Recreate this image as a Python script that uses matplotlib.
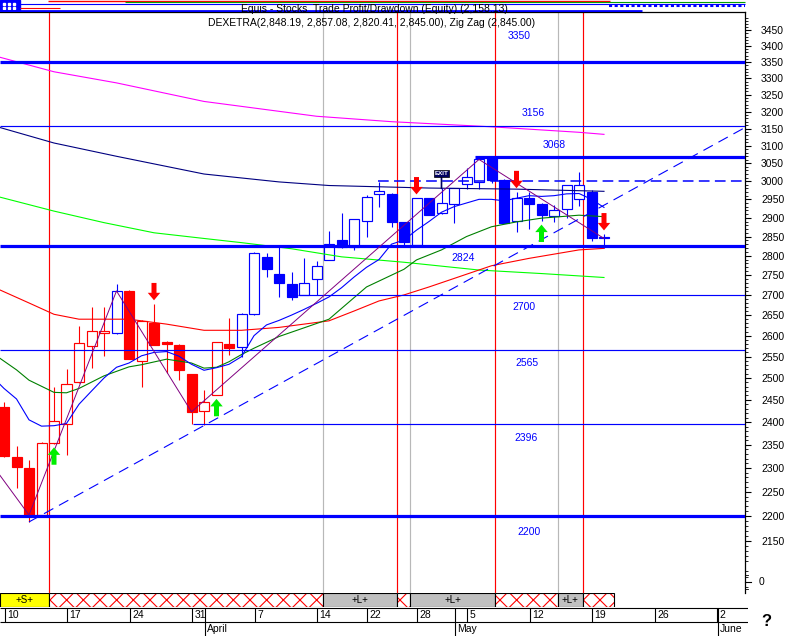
import numpy as np
import matplotlib
matplotlib.use("Agg")
import matplotlib.pyplot as plt
from matplotlib.patches import Rectangle
from matplotlib.ticker import FixedLocator, FuncFormatter, NullFormatter

plt.rcParams['font.family'] = ['Liberation Sans', 'DejaVu Sans']
plt.rcParams['hatch.linewidth'] = 0.8

# ---------------- data ----------------
opens = [2434, 2324, 2300, 2202, 2354, 2396, 2491, 2575, 2607, 2606,
         2710, 2540, 2631, 2585, 2578, 2509, 2425, 2461, 2580, 2573,
         2652, 2796, 2753, 2727, 2700, 2739, 2790, 2841, 2822, 2892,
         2964, 2964, 2889, 2828, 2953, 2912, 2936, 2991, 2998, 3064,
         3003, 2891, 2955, 2937, 2905, 2925, 2950, 2971, 2848.19]
highs = [2445, 2347, 2317, 2356, 2480, 2521, 2623, 2670, 2670, 2727,
         2712, 2638, 2678, 2587, 2579, 2510, 2472, 2586, 2643, 2655,
         2810, 2807, 2823, 2759, 2794, 2787, 2864, 2913, 2897, 2962,
         2998, 2966, 2890, 2954, 2954, 2980, 2981, 3036, 3068, 3068,
         3005, 2971, 2971, 2940, 2934, 2990, 3026, 2975, 2857.08]
lows = [2324, 2258, 2188, 2200, 2352, 2328, 2488, 2523, 2551, 2604,
        2545, 2480, 2577, 2512, 2495, 2396, 2394, 2460, 2554, 2550,
        2651, 2745, 2695, 2687, 2699, 2700, 2789, 2821, 2815, 2849,
        2930, 2876, 2828, 2826, 2907, 2911, 2887, 2977, 2977, 2994,
        2885, 2863, 2869, 2891, 2889, 2899, 2933, 2838, 2820.41]
closes = [2326, 2302, 2202, 2354, 2402, 2486, 2583, 2612, 2611, 2710,
          2545, 2636, 2577, 2581, 2519, 2423, 2446, 2585, 2570, 2652,
          2807, 2766, 2731, 2694, 2731, 2773, 2830, 2822, 2896, 2956,
          2972, 2889, 2836, 2953, 2907, 2939, 2980, 3011, 3061, 3003,
          2885, 2955, 2936, 2907, 2922, 2989, 2990, 2847, 2845.00]
candle_colors = ['r'] * 9 + ['b'] + ['r'] * 9 + ['b'] * 30

# moving averages (day index, value)
mag_idx = [-1, 4, 9, 16, 25, 31, 39, 46, 48]
mag_vals = [3372, 3320, 3286, 3230, 3186, 3170, 3155, 3139, 3133]
navy_idx = [-1, 4, 9, 16, 22, 26, 34, 41, 48]
navy_vals = [3160, 3108, 3070, 3020, 2998, 2988, 2981, 2978, 2972]
lime_idx = [-1, 4, 8, 12, 16, 19, 23, 27, 32, 38, 43, 48]
lime_vals = [2962, 2918, 2887, 2860, 2845, 2834, 2818, 2797, 2783, 2763, 2754, 2744]
red_idx = [-1, 2, 4, 6, 10, 13, 16, 19, 22, 26, 28, 30, 32, 34, 39, 42, 46, 48]
red_vals = [2722, 2680, 2652, 2640, 2640, 2628, 2613, 2613, 2620, 2636, 2660,
            2685, 2700, 2720, 2774, 2793, 2815, 2819]
dg_idx = [-1, 1, 2, 4, 5, 6, 8, 10, 11, 13, 15, 16, 17, 18, 19, 20, 22, 26,
          29, 32, 33, 35, 37, 39, 41, 43, 46, 48]
dg_vals = [2560, 2519, 2495, 2467, 2466, 2476, 2505, 2526, 2531, 2544, 2535,
           2523, 2525, 2538, 2555, 2570, 2598, 2640, 2720, 2765, 2789, 2815,
           2850, 2876, 2889, 2899, 2907, 2903]
blue_idx = list(range(-1, 49))
blue_vals = [2505, 2476, 2452, 2405, 2391, 2392, 2397, 2440, 2470, 2500,
             2525, 2535, 2552, 2560, 2562, 2551, 2532, 2518, 2524, 2532,
             2550, 2600, 2626, 2637, 2650, 2664, 2679, 2695, 2718, 2745,
             2770, 2790, 2830, 2841, 2867, 2890, 2915, 2930, 2940, 2950,
             2950, 2946, 2953, 2960, 2958, 2960, 2965, 2966, 2950, 2928]
zz_idx = [-1, 2, 9, 15, 38, 48]
zz_vals = [2309, 2202, 2710, 2423, 3061, 2845]
trend_idx = [2, 48]
trend_vals = [2188, 2934]

# horizontal levels
level_vals = [3350, 3156, 3068, 3000, 2824, 2700, 2565, 2396, 2200]
level_start = [-0.32, -0.32, 37.7, 29.9, -0.32, 23.5, -0.32, 15.1, -0.32]
level_style = ['thick', 'thin', 'thick', 'dash', 'thick', 'thin', 'thin', 'thin', 'thick']
label_levels = [3350, 3156, 3068, 2824, 2700, 2565, 2396, 2200]
label_texts = ['3350', '3156', '3068', '2824', '2700', '2565', '2396', '2200']
label_x = [41.2, 42.3, 44.0, 36.7, 41.6, 41.8, 41.8, 42.0]
label_dy = [18.5, 9.4, 8.6, -8.6, -8.6, -9.4, -10.0, -11.5]

# signals
up_arrow_idx = [4, 17, 43]
down_arrow_idx = [12, 33, 41, 48]
exit_idx = 35
red_vlines = [3.6, 31.45, 39.3, 46.3]
gray_vlines = [25.5, 32.5, 44.3]

# bottom band
band_edges = [-0.32, 3.6, 25.5, 31.45, 32.5, 39.3, 44.3, 46.3, 48.8]
band_kinds = ['S', 'x', 'L', 'x', 'L', 'x', 'L', 'x']

# date axis
week_idx = [0, 5, 10, 15, 20, 25, 29, 33, 37, 42, 47, 52, 57]
week_labels = ['10', '17', '24', '31', '7', '14', '22', '28', '5', '12', '19', '26', '2']
month_idx = [16, 36, 57]
month_labels = ['April', 'May', 'June']

major_ticks = list(range(2150, 3451, 50))
minor_ticks = [v for v in range(2050, 3501, 10) if v % 50 != 0]

# ---------------- figure ----------------
W, H = 791, 636
fig = plt.figure(figsize=(W / 100, H / 100), dpi=100)


def px_rect(x0, y0, x1, y1):
    return [x0 / W, 1 - y1 / H, (x1 - x0) / W, (y1 - y0) / H]


BLUE = '#0000ff'
RED = '#ff0000'

ax = fig.add_axes(px_rect(0, 12, 745, 593))
ax.set_yscale('log')
ax.set_xlim(-0.32, 59.28)
ax.set_ylim(2048.6, 3509)

# vertical lines
for v in red_vlines:
    ax.axvline(v, color=RED, lw=0.85, zorder=1, snap=True)
for v in gray_vlines:
    ax.axvline(v, color='#b8b8b8', lw=0.85, zorder=1, snap=True)

# candles
for i, (o, h, l, c, col) in enumerate(zip(opens, highs, lows, closes, candle_colors)):
    color = RED if col == 'r' else BLUE
    ax.vlines(i, l, h, color=color, lw=0.8, zorder=2)
    bottom = min(o, c)
    height = max(abs(c - o), 0.6)
    up = c >= o
    ax.bar(i, height, bottom=bottom, width=0.8,
           facecolor='white' if up else color, edgecolor=color,
           linewidth=0.85, zorder=2.5)

# moving averages
ax.plot(mag_idx, mag_vals, color='#ff00ff', lw=0.8, zorder=3)
ax.plot(navy_idx, navy_vals, color='#000080', lw=0.8, zorder=3)
ax.plot(lime_idx, lime_vals, color='#00ff00', lw=0.8, zorder=3)
ax.plot(red_idx, red_vals, color=RED, lw=0.8, zorder=3)
ax.plot(dg_idx, dg_vals, color='#008000', lw=0.8, zorder=3)
ax.plot(blue_idx, blue_vals, color=BLUE, lw=0.8, zorder=3)

# horizontal levels
for val, start, sty in zip(level_vals, level_start, level_style):
    if sty == 'thick':
        ax.hlines(val, start, 60, color=BLUE, lw=2.3, zorder=4)
    elif sty == 'thin':
        ax.hlines(val, start, 60, color=BLUE, lw=0.85, zorder=4)
    else:
        ax.hlines(val, start, 60, color=BLUE, lw=1.1, linestyles=(0, (7, 3.5)), zorder=4)

for lv, txt, lx, dy in zip(label_levels, label_texts, label_x, label_dy):
    ax.annotate(txt, xy=(lx, lv), xytext=(0, dy), textcoords='offset points',
                ha='center', va='center', color=BLUE, fontsize=7.5, zorder=6)

# zig zag
ax.plot(zz_idx, zz_vals, color='#800080', lw=0.7, zorder=5)

# trend line (straight in log space, extended to the right)
t_x = np.array([trend_idx[0], 60.0])
slope = (np.log(trend_vals[1]) - np.log(trend_vals[0])) / (trend_idx[1] - trend_idx[0])
t_y = np.exp(np.log(trend_vals[0]) + slope * (t_x - trend_idx[0]))
ax.plot(t_x, t_y, color=BLUE, lw=0.8, linestyle=(0, (9.6, 5.8)), zorder=5)

# arrows
astyle = 'simple,head_length=0.6,head_width=1.0,tail_width=0.4'
for i in down_arrow_idx:
    ax.annotate('', xy=(i, highs[i]), xytext=(0, 15), textcoords='offset points',
                arrowprops=dict(arrowstyle=astyle, mutation_scale=9, color=RED,
                                shrinkA=0, shrinkB=2.5, lw=0), zorder=7)
for i in up_arrow_idx:
    ax.annotate('', xy=(i, lows[i]), xytext=(0, -15), textcoords='offset points',
                arrowprops=dict(arrowstyle=astyle, mutation_scale=9, color='#00ee00',
                                shrinkA=0, shrinkB=2.5, lw=0), zorder=7)

# EXIT marker
ax.annotate('EXIT', xy=(exit_idx, highs[exit_idx]), xytext=(0, 9), textcoords='offset points',
            ha='center', va='bottom', fontsize=4.5, color='white', fontweight='bold',
            bbox=dict(boxstyle='square,pad=0.15', fc='#000060', ec='black', lw=0.5),
            arrowprops=dict(arrowstyle='-', color='#000060', lw=1.2, shrinkA=0, shrinkB=0),
            zorder=7)

# axis formatting
ax.yaxis.tick_right()
ax.yaxis.set_major_locator(FixedLocator(major_ticks))
ax.yaxis.set_minor_locator(FixedLocator(minor_ticks))
ax.yaxis.set_major_formatter(FuncFormatter(lambda v, p: f"{v:.0f}"))
ax.yaxis.set_minor_formatter(NullFormatter())
ax.tick_params(axis='y', which='major', direction='out', length=4.5, width=0.8,
               pad=7, labelsize=7.5, right=True, left=False, colors='black')
ax.tick_params(axis='y', which='minor', direction='out', length=2.2, width=0.6,
               right=True, left=False)
ax.tick_params(axis='x', bottom=False, labelbottom=False)
for s in ['left', 'bottom']:
    ax.spines[s].set_visible(False)
for s in ['right', 'top']:
    ax.spines[s].set_color('black')
    ax.spines[s].set_linewidth(0.9)

# "0" label of the lower scale
fig.text(759 / W, 1 - 582 / H, '0', fontsize=7.5, ha='left', va='center')
fig.add_artist(plt.Line2D([745 / W, 751 / W], [1 - 582 / H, 1 - 582 / H], color='black', lw=0.8))
fig.add_artist(plt.Line2D([745 / W, 748 / W], [1 - 589 / H, 1 - 589 / H], color='black', lw=0.6))
fig.add_artist(plt.Line2D([745 / W, 748 / W], [1 - 575 / H, 1 - 575 / H], color='black', lw=0.6))

# title
fig.text(372 / W, 1 - 23 / H,
         'DEXETRA(2,848.19, 2,857.08, 2,820.41, 2,845.00), Zig Zag (2,845.00)',
         fontsize=7.5, ha='center', va='center', color='black')

# ---------------- top strip ----------------
axt = fig.add_axes(px_rect(0, 0, W, 12))
axt.set_xlim(0, W)
axt.set_ylim(12, 0)
axt.axis('off')
axt.add_patch(Rectangle((0, 0), 20, 11, color=BLUE))
for xx in [3, 8, 13]:
    for yy in [3, 7]:
        axt.add_patch(Rectangle((xx, yy), 2, 2, color='white'))
axt.hlines(0.8, 48, 610, color=RED, lw=1)
axt.hlines(2.0, 125, 745, color='#00a000', lw=0.8)
axt.hlines(3.6, 20, 745, color=BLUE, lw=0.8)
axt.hlines(5.8, 609, 745, color=BLUE, lw=1.5, linestyles=(0, (1.5, 1.2)))
axt.hlines(11.0, 0, 642, color=BLUE, lw=2)
axt.hlines(7.5, 20, 60, color=RED, lw=0.8)
axt.text(374, 9.2, 'Equis - Stocks  Trade Profit/Drawdown (Equity) (2,158.13)', fontsize=7.5,
         ha='center', va='center', color='black')

# ---------------- band row ----------------
axb = fig.add_axes(px_rect(0, 593, 745, 607))
axb.set_xlim(-0.32, 59.28)
axb.set_ylim(0, 1)
axb.axis('off')
for k in range(len(band_kinds)):
    x0, x1 = band_edges[k], band_edges[k + 1]
    kind = band_kinds[k]
    if kind == 'S':
        axb.add_patch(Rectangle((x0, 0), x1 - x0, 1, facecolor='#ffff00', edgecolor='black', lw=0.8))
        axb.text((x0 + x1) / 2, 0.5, '+S+', ha='center', va='center', fontsize=7)
    elif kind == 'L':
        axb.add_patch(Rectangle((x0, 0), x1 - x0, 1, facecolor='#c0c0c0', edgecolor='black', lw=0.8))
        axb.text((x0 + x1) / 2, 0.5, '+L+', ha='center', va='center', fontsize=7)
    else:
        axb.add_patch(Rectangle((x0, 0), x1 - x0, 1, facecolor='white', edgecolor=RED,
                                hatch='xx', lw=0))
        axb.add_patch(Rectangle((x0, 0), x1 - x0, 1, facecolor='none', edgecolor='black', lw=0.8))

# ---------------- date rows ----------------
axd = fig.add_axes(px_rect(0, 607, 748, 636))
axd.set_xlim(-0.32, 59.52)
axd.set_ylim(29, 0)
axd.axis('off')
axd.hlines([0.5, 14.7], -0.32, 59.52, color='black', lw=0.8)
for wi, wl in zip(week_idx, week_labels):
    axd.vlines(wi + 0.08, 0.5, 14.7, color='black', lw=0.8)
    axd.text(wi + 0.25, 7.8, wl, ha='left', va='center', fontsize=7.5)
for mi, ml in zip(month_idx, month_labels):
    axd.vlines(mi + 0.1, 0.5, 29, color='black', lw=0.8)
    axd.text(mi + 0.27, 22.5, ml, ha='left', va='center', fontsize=7.5)

fig.text(766 / W, 1 - 621 / H, '?', fontsize=12, fontweight='bold', ha='center', va='center')

fig.savefig('out.png', dpi=100)
